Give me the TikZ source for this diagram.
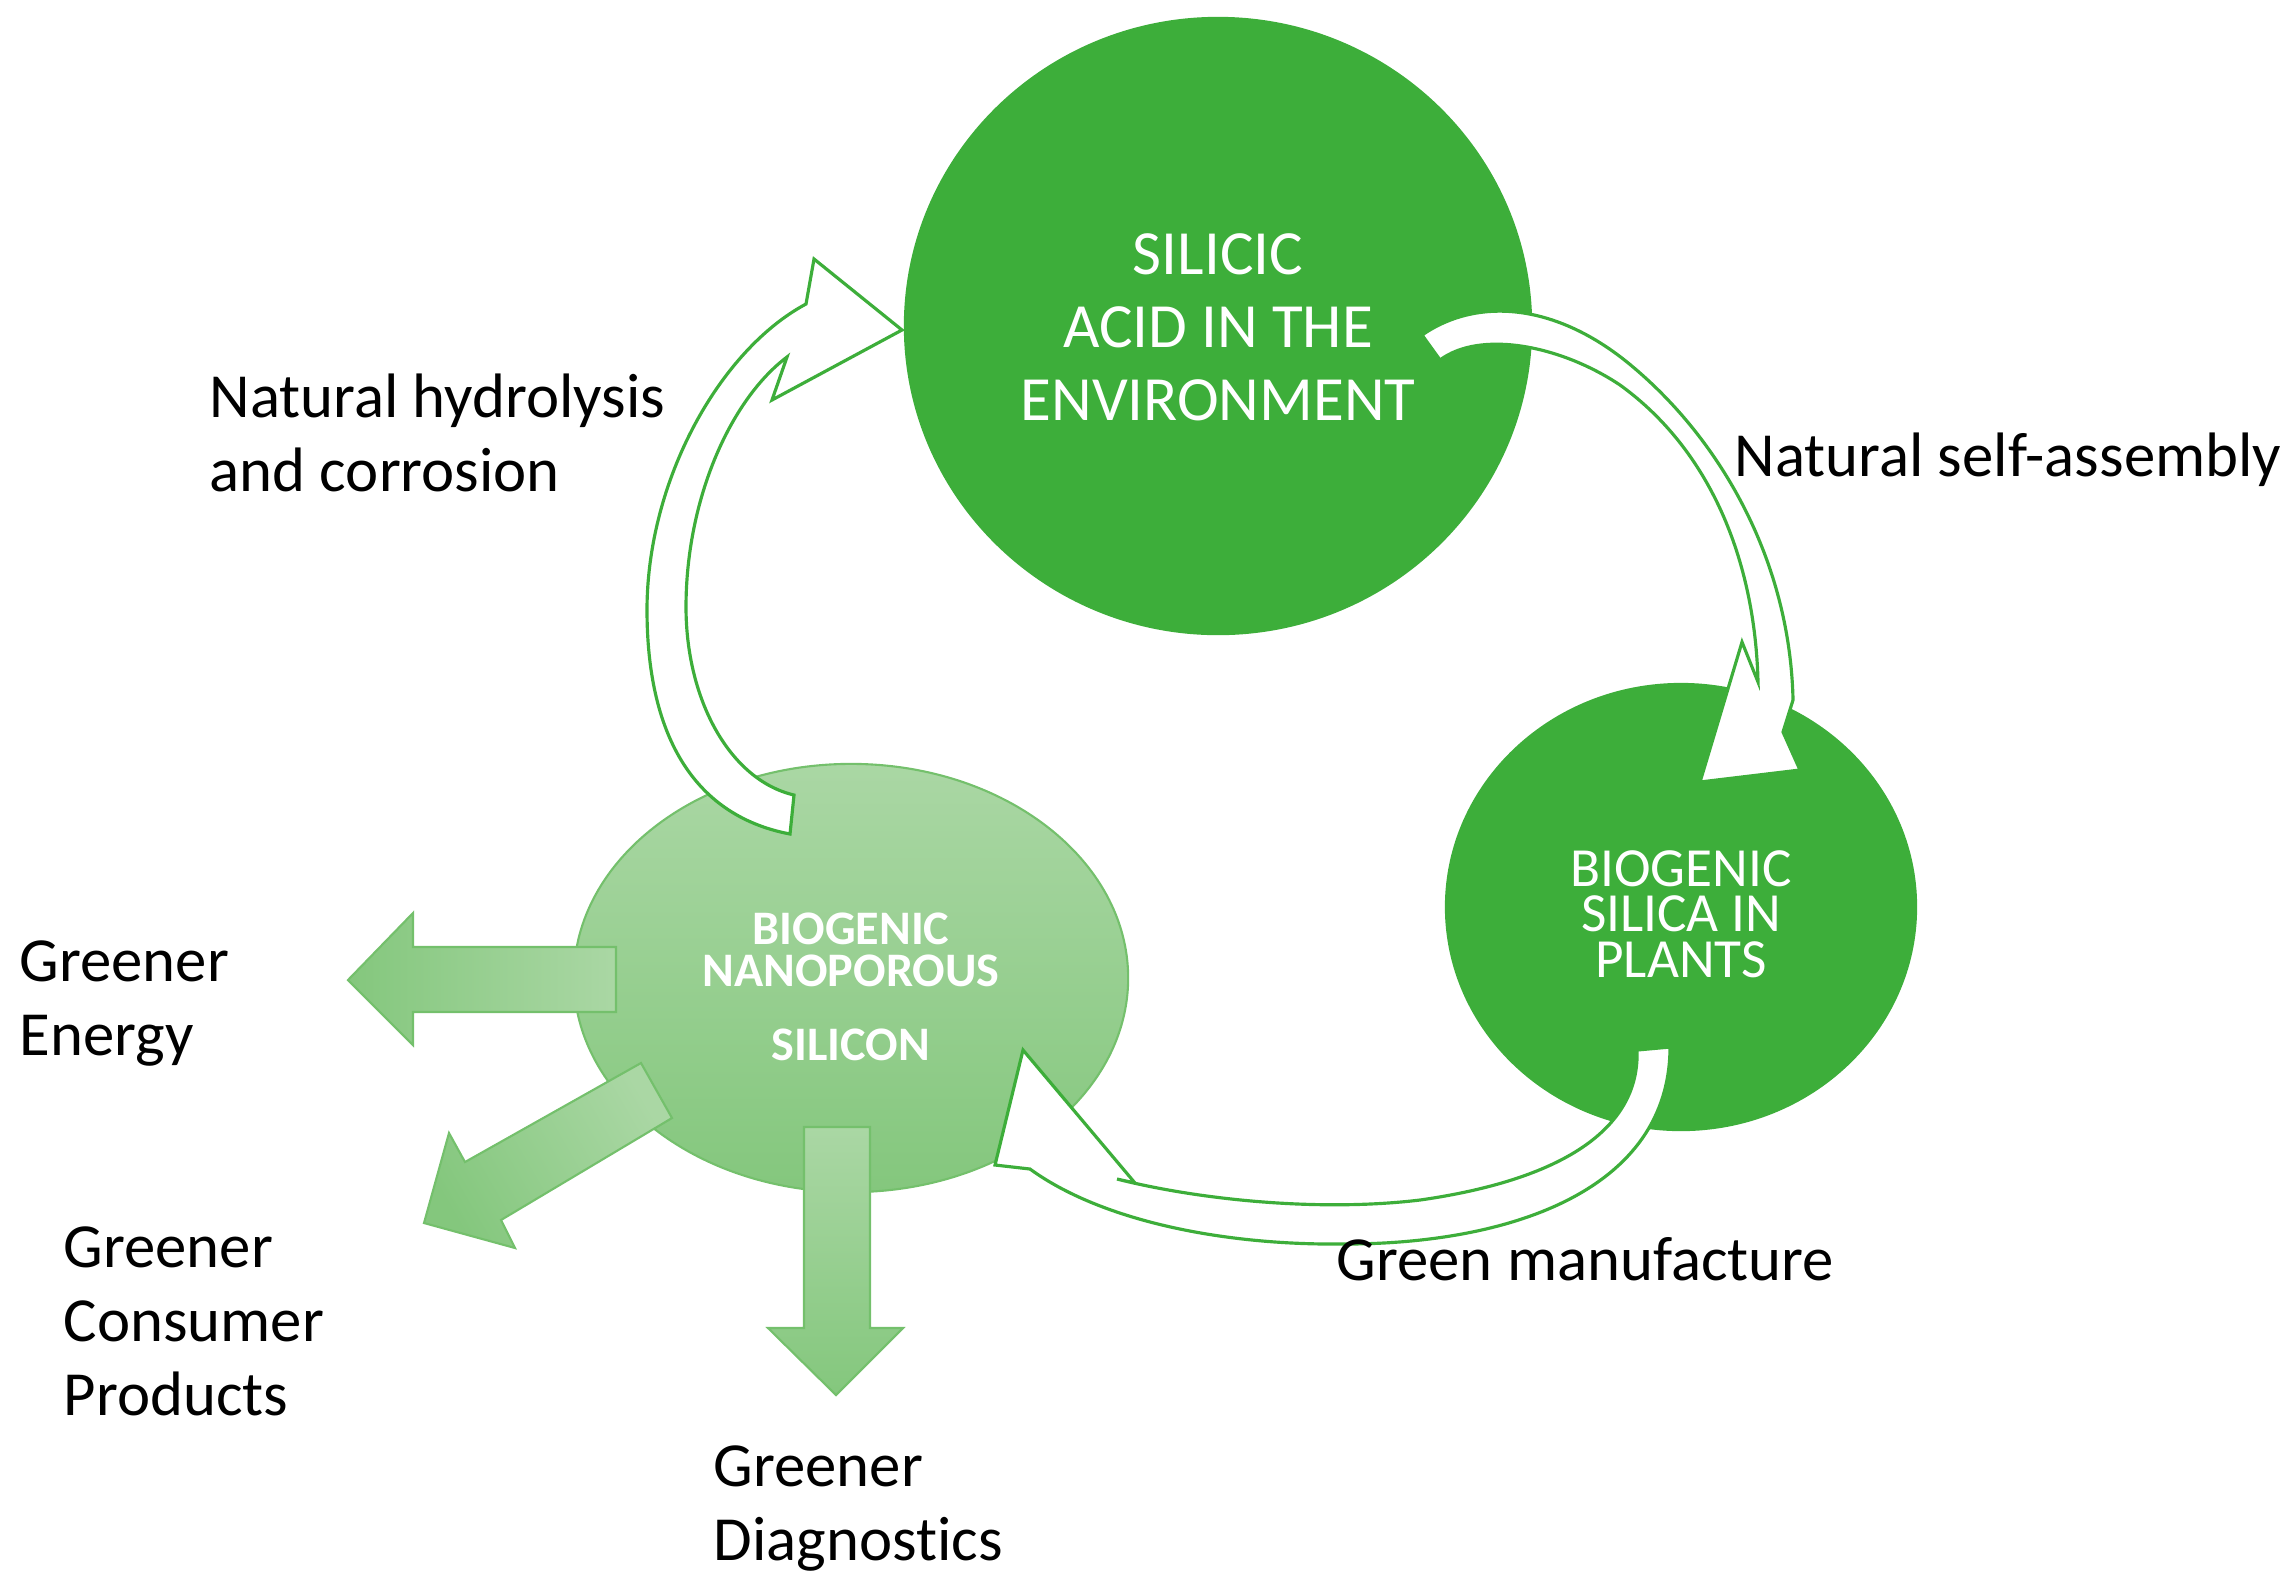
\documentclass[tikz,border=0pt]{standalone}
\usepackage{fontspec}
\setmainfont{Carlito}[Ligatures=NoCommon]
\usetikzlibrary{shapes.geometric}
\definecolor{dkgreen}{RGB}{61,174,58}
\definecolor{ltgreenA}{RGB}{170,215,164}
\definecolor{ltgreenB}{RGB}{132,199,125}
\definecolor{edgegreen}{RGB}{116,192,108}
\begin{document}
\begin{tikzpicture}[x=0.01cm,y=-0.01cm,
  lbl/.style={anchor=north west, inner sep=0pt, align=left, text=black, font=\fontsize{17.85}{21}\selectfont},
  bigcirc/.style={ellipse, fill=dkgreen, inner sep=0pt},
  intext/.style={inner sep=0pt, text=white, align=center},
  whitearrow/.style={fill=white, draw=dkgreen, line width=0.9pt, line join=miter},
  blockarrow/.style={draw=edgegreen, line width=0.6pt, line join=miter},
]
\useasboundingbox (0,0) rectangle (2295,1581);

% main shapes
\node[bigcirc, minimum width=6.28cm, minimum height=6.18cm] (env) at (1218,326) {};
\node[bigcirc, minimum width=4.72cm, minimum height=4.48cm] (plants) at (1681,907) {};
\node[ellipse, minimum width=5.54cm, minimum height=4.28cm, inner sep=0pt,
      top color=ltgreenA, bottom color=ltgreenB, draw=edgegreen, line width=0.6pt] (nano) at (851,978) {};

% texts inside the shapes
\node[intext, font=\fontsize{17.9}{20.8}\selectfont] (envtext) at (1218,327)
  {SILICIC\\ACID IN THE\\ENVIRONMENT};
\node[intext, font=\fontsize{15.7}{12.9}\selectfont] (plantstext) at (1681,914)
  {BIOGENIC\\SILICA IN\\PLANTS};
\node[intext, font=\fontsize{13.7}{11.9}\selectfont\bfseries] (nanotext) at (851,987)
  {BIOGENIC\\NANOPOROUS\\[9pt]SILICON};

% curved white arrows
% natural hydrolysis: nano -> env
\draw[whitearrow] (790,834) .. controls (690,815) and (647,730) .. (647,610)
  .. controls (647,480) and (720,350) .. (806,304)
  -- (814,259) -- (902,330) -- (772,400) -- (787,357)
  .. controls (730,400) and (686,500) .. (686,607)
  .. controls (686,700) and (730,780) .. (794,795)
  -- cycle;
% natural self-assembly: env -> plants
\draw[whitearrow] (1422,335) .. controls (1480,295) and (1560,305) .. (1633,367)
  .. controls (1720,440) and (1790,560) .. (1793,700)
  -- (1783,732) -- (1800,770) -- (1700,782) -- (1742,642) -- (1758,682)
  .. controls (1755,560) and (1710,450) .. (1620,385)
  .. controls (1560,345) and (1480,330) .. (1440,360)
  -- cycle;
% green manufacture: plants -> nano
\draw[whitearrow] (1637,1050) .. controls (1640,1130) and (1560,1180) .. (1420,1200)
  .. controls (1320,1212) and (1200,1200) .. (1117,1179)
  -- (1135,1183) -- (1023,1050) -- (995,1165) -- (1030,1169)
  .. controls (1100,1220) and (1220,1245) .. (1340,1244)
  .. controls (1510,1245) and (1670,1190) .. (1670,1047)
  -- cycle;

% block arrows out of the nanoporous silicon
\draw[blockarrow, left color=ltgreenB, right color=ltgreenA]
  (616,947) -- (413,947) -- (413,913) -- (348,980) -- (413,1045) -- (413,1012) -- (616,1012) -- cycle;
\draw[blockarrow, top color=ltgreenA, bottom color=ltgreenB, shading angle=-60]
  (641,1063) -- (465,1162) -- (449,1133) -- (424,1223) -- (515,1248) -- (501,1220) -- (672,1118) -- cycle;
\draw[blockarrow, top color=ltgreenA, bottom color=ltgreenB]
  (804,1127) -- (870,1127) -- (870,1328) -- (903,1328) -- (836,1395) -- (768,1328) -- (804,1328) -- cycle;

% labels
\node[lbl] (hydro) at (209,373) {Natural hydrolysis\\and corrosion};
\node[lbl] (selfas) at (1734,432) {Natural self-assembly};
\node[lbl] (manuf) at (1336,1237) {Green manufacture};
\node[lbl] (energy) at (19,940) {Greener\\Energy};
\node[lbl] (consumer) at (63,1226) {Greener\\Consumer\\Products};
\node[lbl] (diag) at (713,1445) {Greener\\Diagnostics};
\end{tikzpicture}
\end{document}
